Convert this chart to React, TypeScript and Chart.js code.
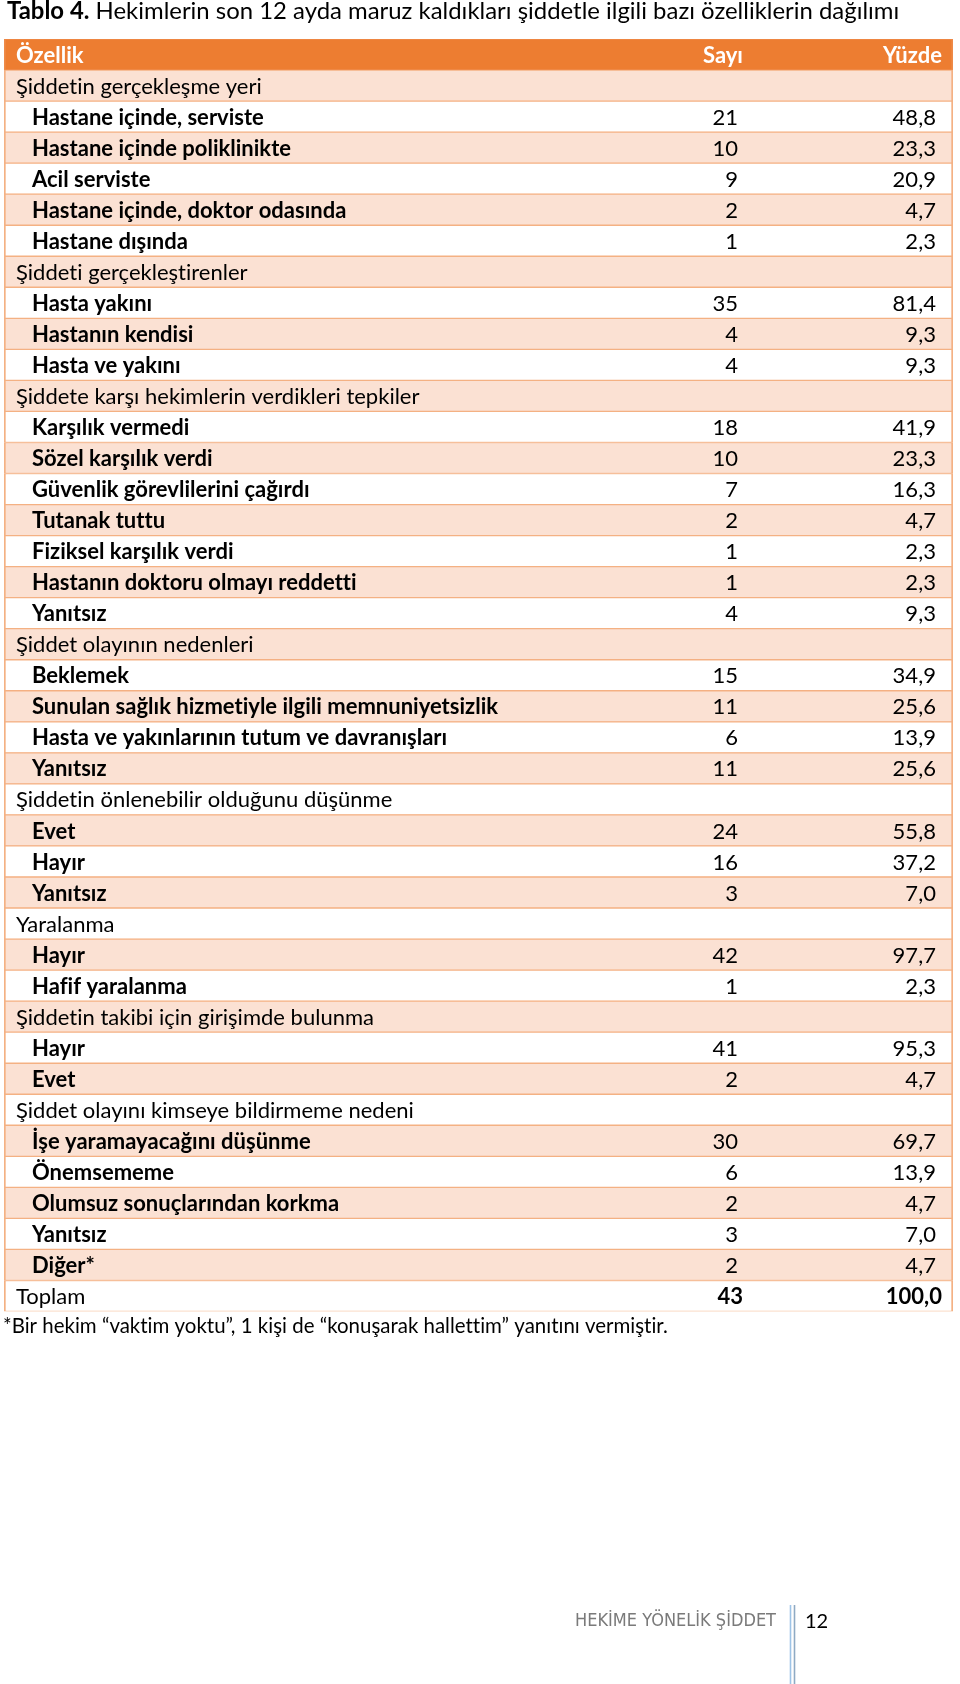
import React, { useEffect, useRef } from "react";
import { Chart, registerables } from "chart.js";

Chart.register(...registerables);

// ---------- data ----------
const titleBold = "Tablo 4.";
const titleText = " Hekimlerin son 12 ayda maruz kaldıkları şiddetle ilgili bazı özelliklerin dağılımı";
const headers = ["Özellik", "Sayı", "Yüzde"];

const rowLabels = [
  "Şiddetin gerçekleşme yeri",
  "Hastane içinde, serviste",
  "Hastane içinde poliklinikte",
  "Acil serviste",
  "Hastane içinde, doktor odasında",
  "Hastane dışında",
  "Şiddeti gerçekleştirenler",
  "Hasta yakını",
  "Hastanın kendisi",
  "Hasta ve yakını",
  "Şiddete karşı hekimlerin verdikleri tepkiler",
  "Karşılık vermedi",
  "Sözel karşılık verdi",
  "Güvenlik görevlilerini çağırdı",
  "Tutanak tuttu",
  "Fiziksel karşılık verdi",
  "Hastanın doktoru olmayı reddetti",
  "Yanıtsız",
  "Şiddet olayının nedenleri",
  "Beklemek",
  "Sunulan sağlık hizmetiyle ilgili memnuniyetsizlik",
  "Hasta ve yakınlarının tutum ve davranışları",
  "Yanıtsız",
  "Şiddetin önlenebilir olduğunu düşünme",
  "Evet",
  "Hayır",
  "Yanıtsız",
  "Yaralanma",
  "Hayır",
  "Hafif yaralanma",
  "Şiddetin takibi için girişimde bulunma",
  "Hayır",
  "Evet",
  "Şiddet olayını kimseye bildirmeme nedeni",
  "İşe yaramayacağını düşünme",
  "Önemsememe",
  "Olumsuz sonuçlarından korkma",
  "Yanıtsız",
  "Diğer*",
  "Toplam",
];

// g = group heading, i = item, t = total
const rowKinds = [
  "g", "i", "i", "i", "i", "i",
  "g", "i", "i", "i",
  "g", "i", "i", "i", "i", "i", "i", "i",
  "g", "i", "i", "i", "i",
  "g", "i", "i", "i",
  "g", "i", "i",
  "g", "i", "i",
  "g", "i", "i", "i", "i", "i",
  "t",
];

const counts: (number | null)[] = [
  null, 21, 10, 9, 2, 1,
  null, 35, 4, 4,
  null, 18, 10, 7, 2, 1, 1, 4,
  null, 15, 11, 6, 11,
  null, 24, 16, 3,
  null, 42, 1,
  null, 41, 2,
  null, 30, 6, 2, 3, 2,
  43,
];

const percents: (number | null)[] = [
  null, 48.8, 23.3, 20.9, 4.7, 2.3,
  null, 81.4, 9.3, 9.3,
  null, 41.9, 23.3, 16.3, 4.7, 2.3, 2.3, 9.3,
  null, 34.9, 25.6, 13.9, 25.6,
  null, 55.8, 37.2, 7.0,
  null, 97.7, 2.3,
  null, 95.3, 4.7,
  null, 69.7, 13.9, 4.7, 7.0, 4.7,
  100.0,
];

const footnote = "*Bir hekim “vaktim yoktu”, 1 kişi de “konuşarak hallettim” yanıtını vermiştir.";
const footerBrand = "HEKİME YÖNELİK ŞİDDET";
const pageNumber = "12";

// ---------- styling / layout constants ----------
const FULL = 100;
const FONT = "Lato, 'Noto Sans', sans-serif";
const HEADER_BG = "#ED7D31";
const PEACH = "#FBE1D3";
const BORDER = "#F4B183";
const COL_GROUP_X = 1.26;
const COL_ITEM_X = 2.95;
const COL_SAYI = 77.34;
const COL_SAYI_BOLD = 77.87;
const COL_YUZDE = 98.2;
const COL_YUZDE_BOLD = 98.84;
const ROW_FONT = 22;

const fmt = (v: number) => v.toFixed(1).replace(".", ",");

function noLig(ctx: any) {
  try {
    ctx.textRendering = "optimizeSpeed";
  } catch (e) {}
  try {
    ctx.letterSpacing = "0.01px";
  } catch (e) {}
}

function fitFont(ctx: CanvasRenderingContext2D, text: string, weight: string, family: string, target: number, base = 20) {
  ctx.font = `${weight} ${base}px ${family}`;
  const w = ctx.measureText(text).width;
  return (base * target) / w;
}

const tablePlugin = {
  id: "tableText",
  afterDatasetsDraw(chart: any) {
    const ctx: CanvasRenderingContext2D = chart.ctx;
    const x = chart.scales.x;
    const y = chart.scales.y;
    ctx.save();
    noLig(ctx);
    ctx.textBaseline = "middle";

    // header
    const hy = y.getPixelForValue(0);
    ctx.fillStyle = "#FFFFFF";
    ctx.font = `bold ${ROW_FONT}px ${FONT}`;
    ctx.textAlign = "left";
    ctx.fillText(headers[0], x.getPixelForValue(COL_GROUP_X), hy + 1);
    ctx.textAlign = "right";
    ctx.fillText(headers[1], x.getPixelForValue(COL_SAYI_BOLD), hy + 1);
    ctx.fillText(headers[2], x.getPixelForValue(COL_YUZDE_BOLD), hy + 1);

    // rows
    ctx.fillStyle = "#000000";
    rowLabels.forEach((lab, i) => {
      const py = y.getPixelForValue(i + 1) + 1;
      const kind = rowKinds[i];
      ctx.textAlign = "left";
      if (kind === "i") {
        ctx.font = `bold ${ROW_FONT}px ${FONT}`;
        ctx.fillText(lab, x.getPixelForValue(COL_ITEM_X), py);
      } else {
        ctx.font = `${ROW_FONT}px ${FONT}`;
        ctx.fillText(lab, x.getPixelForValue(COL_GROUP_X), py);
      }
      const c = counts[i];
      const p = percents[i];
      ctx.textAlign = "right";
      if (kind === "t") {
        ctx.font = `bold ${ROW_FONT}px ${FONT}`;
        if (c !== null) ctx.fillText(String(c), x.getPixelForValue(COL_SAYI_BOLD), py);
        if (p !== null) ctx.fillText(fmt(p), x.getPixelForValue(COL_YUZDE_BOLD), py);
      } else {
        ctx.font = `${ROW_FONT}px ${FONT}`;
        if (c !== null) ctx.fillText(String(c), x.getPixelForValue(COL_SAYI), py);
        if (p !== null) ctx.fillText(fmt(p), x.getPixelForValue(COL_YUZDE), py);
      }
    });

    // title
    ctx.textBaseline = "alphabetic";
    ctx.textAlign = "left";
    ctx.font = `bold 20px ${FONT}`;
    const wb = ctx.measureText(titleBold).width;
    ctx.font = `20px ${FONT}`;
    const wr = ctx.measureText(titleText).width;
    const tSize = (20 * 893) / (wb + wr);
    ctx.font = `bold ${tSize}px ${FONT}`;
    ctx.fillText(titleBold, 7, 19);
    const wb2 = ctx.measureText(titleBold).width;
    ctx.font = `${tSize}px ${FONT}`;
    ctx.fillText(titleText, 7 + wb2, 19);

    // footnote
    const fSize = fitFont(ctx, footnote, "", FONT, 665);
    ctx.font = `${fSize}px ${FONT}`;
    ctx.fillText(footnote, 3, 1333);

    // footer brand
    ctx.fillStyle = "#7A7A7A";
    ctx.font = `18px 'DejaVu Sans Condensed', 'Liberation Sans Narrow', ${FONT}`;
    ctx.fillText(footerBrand, 575, 1626, 207);
    // double rule
    ctx.lineWidth = 1.6;
    ctx.strokeStyle = "#9DC3E6";
    ctx.beginPath();
    ctx.moveTo(790.5, 1605);
    ctx.lineTo(790.5, 1684);
    ctx.stroke();
    ctx.strokeStyle = "#8FAAC4";
    ctx.beginPath();
    ctx.moveTo(794.5, 1605);
    ctx.lineTo(794.5, 1684);
    ctx.stroke();
    ctx.fillStyle = "#000000";
    ctx.font = `20px ${FONT}`;
    ctx.fillText(pageNumber, 805, 1628);
    ctx.restore();
  },
};

export default function App() {
  const ref = useRef<HTMLCanvasElement | null>(null);
  useEffect(() => {
    if (!ref.current) return;
    const labels = [headers[0], ...rowLabels];
    const bg = labels.map((_, i) => (i === 0 ? HEADER_BG : i % 2 === 1 ? PEACH : "#FFFFFF"));
    const chart = new Chart(ref.current, {
      type: "bar",
      data: {
        labels,
        datasets: [
          {
            data: labels.map(() => [0, FULL]) as any,
            backgroundColor: bg,
            borderColor: labels.map((_, i) => (i === 0 ? "#EE8A48" : BORDER)),
            borderWidth: { top: 1, bottom: 1, left: 2, right: 2 } as any,
            borderSkipped: false,
            barPercentage: 1,
            categoryPercentage: 1,
          },
        ],
      },
      options: {
        indexAxis: "y",
        responsive: false,
        animation: false,
        layout: { padding: { left: 4, right: 7, top: 39, bottom: 372.5 } },
        scales: {
          x: { display: false, min: 0, max: FULL },
          y: { display: false },
        },
        plugins: { legend: { display: false }, tooltip: { enabled: false } },
      },
      plugins: [tablePlugin],
    });
    return () => chart.destroy();
  }, []);
  return (
    <div style={{ position: "absolute", left: 0, top: 0, width: 960, height: 1684, background: "#fff" }}>
      <canvas ref={ref} width={960} height={1684} style={{ display: "block" }} />
    </div>
  );
}
